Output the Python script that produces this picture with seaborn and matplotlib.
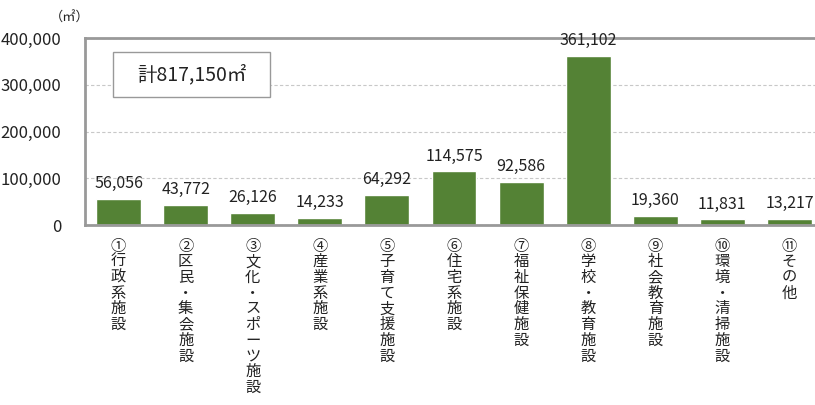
import matplotlib
matplotlib.use("Agg")
import matplotlib.pyplot as plt
from matplotlib.patches import Rectangle
import seaborn as sns
import pandas as pd

categories = [
    "①行政系施設", "②区民・集会施設", "③文化・スポーツ施設", "④産業系施設",
    "⑤子育て支援施設", "⑥住宅系施設", "⑦福祉保健施設", "⑧学校・教育施設",
    "⑨社会教育施設", "⑩環境・清掃施設", "⑪その他",
]
areas = [56056, 43772, 26126, 14233, 64292, 114575, 92586, 361102, 19360, 11831, 13217]
yticks = [0, 100000, 200000, 300000, 400000]
total_label = "計817,150㎡"

sns.set_theme(style="white")
plt.rcParams["font.family"] = ["Noto Sans CJK JP", "DejaVu Sans"]

df = pd.DataFrame({"cat": categories, "area": areas})

fig = plt.figure(figsize=(8.15, 4.05), dpi=100)
ax = fig.add_axes([85 / 815, 1 - 225 / 405, 738 / 815, 187 / 405])

sns.barplot(data=df, x="cat", y="area", color="#548235", saturation=1,
            width=0.67, ax=ax)

ax.set_ylim(0, 400000)
ax.set_xlim(-0.5, len(categories) - 0.5)
ax.set_yticks(yticks)
ax.set_yticklabels([f"{v:,}" for v in yticks], fontsize=12, color="#222222")
ax.yaxis.grid(True, linestyle=(0, (3, 2)), color="#c8c8c8", linewidth=0.8)
ax.set_axisbelow(True)
ax.tick_params(axis="y", length=5, color="#888888", pad=12)
ax.tick_params(axis="x", length=0)
ax.set_xticklabels([])
ax.set_xlabel("")
ax.set_ylabel("")

for side in ["left", "top", "bottom"]:
    ax.spines[side].set_color("#999999")
    ax.spines[side].set_linewidth(2)
ax.spines["right"].set_visible(False)

for i, v in enumerate(areas):
    ax.annotate(f"{v:,}", (i, v), xytext=(0, 5), textcoords="offset points",
                ha="center", va="bottom", fontsize=11.5, color="#222222")

for i, name in enumerate(categories):
    ax.annotate("\n".join(name), (i, 0), xytext=(0, -9), textcoords="offset points",
                ha="center", va="top", fontsize=11, color="#222222",
                linespacing=0.9, annotation_clip=False)

# total box
ax.add_patch(Rectangle((0.038, 0.684), 0.213, 0.241, transform=ax.transAxes,
                       facecolor="white", edgecolor="#999999", linewidth=1, zorder=5))
ax.text(0.145, 0.805, total_label, transform=ax.transAxes, fontsize=14,
        ha="center", va="center", color="#222222", zorder=6)

fig.text(50 / 815, 1 - 18 / 405, "（㎡）", fontsize=9.5, ha="left", va="center",
         color="#222222")

fig.savefig("out.png", dpi=100)
